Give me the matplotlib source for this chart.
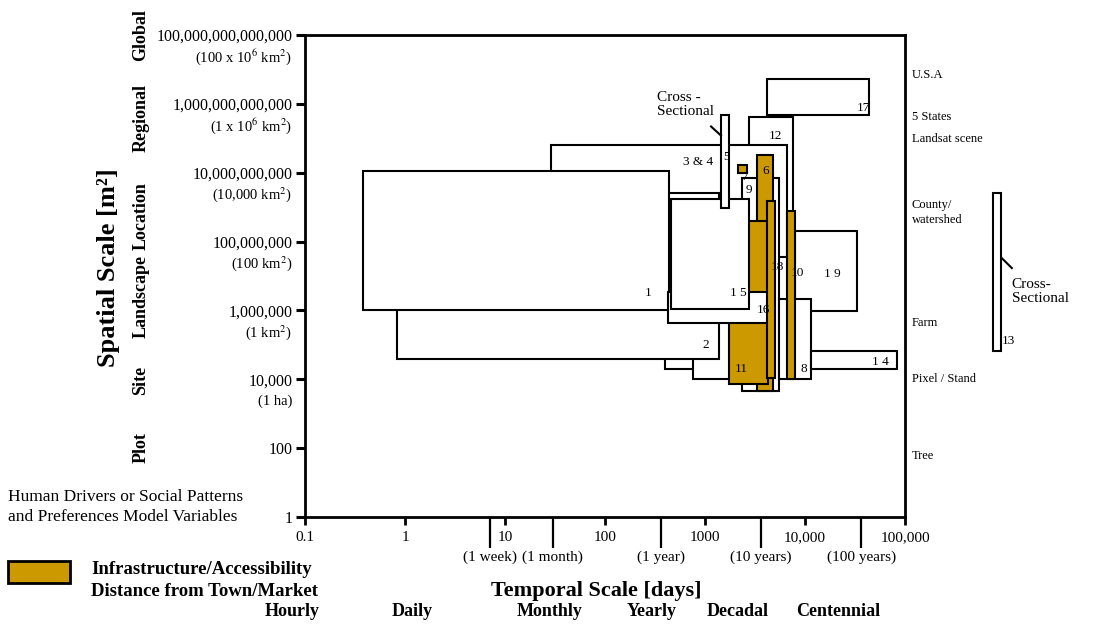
import matplotlib.pyplot as plt
from matplotlib.patches import Rectangle
from matplotlib.ticker import FixedLocator, NullLocator, NullFormatter

plt.rcParams['font.family'] = 'Liberation Serif'
plt.rcParams['mathtext.fontset'] = 'stix'

GOLD = '#CC9900'
W, H = 1097, 631

# spatial axis (m^2)
y_ticks = [1, 1e2, 1e4, 1e6, 1e8, 1e10, 1e12, 1e14]
y_labels = ['1', '100', '10,000', '1,000,000', '100,000,000', '10,000,000,000',
            '1,000,000,000,000', '100,000,000,000,000']
y_sub = ['', '', '(1 ha)', '(1 km$^2$)', '(100 km$^2$)', '(10,000 km$^2$)',
         '(1 x 10$^6$ km$^2$)', '(100 x 10$^6$ km$^2$)']
space_names = ['Global', 'Regional', 'Location', 'Landscape', 'Site', 'Plot']
space_pos = [1e14, 4e11, 5.5e8, 2.6e6, 9e3, 107]

# temporal axis (days)
x_ticks = [0.1, 1, 10, 100, 1000, 1e4, 1e5]
x_labels = ['0.1', '1', '10', '100', '1000', '10,000', '100,000']
period_ticks = [7, 30, 365, 3650, 36500]
period_labels = ['(1 week)', '(1 month)', '(1 year)', '(10 years)', '(100 years)']
time_names = ['Hourly', 'Daily', 'Monthly', 'Yearly', 'Decadal', 'Centennial']
time_pos = [0.074, 1.17, 28, 290, 2140, 21400]

# right side places
place_names = ['U.S.A', '5 States', 'Landsat scene', 'County/\nwatershed', 'Farm',
               'Pixel / Stand', 'Tree']
place_pos = [6.9e12, 4.2e11, 9.5e10, 7e8, 4.3e5, 1e4, 59]

# model extents, listed in drawing order (bottom first)
box_x0 = [2750, 28.8, 398, 760, 0.83, 0.38, 2340, 3310, 1740, 427, 457, 1445,
          2140, 4170, 7940, 5500, 6600, 11500, 4170, 7.6e5]
box_x1 = [7600, 6600, 800, 2500, 1380, 440, 5500, 4790, 4270, 4365, 2750, 1740,
          2630, 5010, 33100, 11500, 7940, 83200, 43650, 9.1e5]
box_y0 = [1e6, 3.5e7, 2e4, 1e4, 3.9e4, 1e6, 4.6e3, 4.6e3, 7.2e3, 4.3e5, 1.1e6,
          9.3e8, 1e10, 1.1e4, 9.5e5, 1e4, 1e4, 2e4, 4.8e11, 6.6e4]
box_y1 = [4.2e11, 6.3e10, 5e5, 5e5, 2.6e9, 1.1e10, 7e9, 3.2e10, 4e8, 3.4e6,
          1.7e9, 4.8e11, 1.7e10, 1.5e9, 2e8, 2.1e6, 7.8e8, 6.6e4, 5.2e12, 2.6e9]
box_infra = [False, False, False, False, False, False, False, True, True, False,
             False, False, True, True, False, False, True, False, False, False]

# model numbers
num_text = ['1', '2', '3 & 4', '5', '6', '7', '8', '9', '10', '11', '12', '1 4',
            '1 5', '16', '17', '18', '1 9', '13']
num_x = [269, 1023, 851, 1622, 4074, 2455, 9772, 2754, 8318, 2290, 5012, 56234,
         2138, 3802, 38000, 5248, 18600, 1.07e6]
num_y = [3.2e6, 1e5, 2e10, 2.9e10, 1.1e10, 7.5e9, 2e4, 3.2e9, 1.2e7, 2e4,
         1.2e11, 3.2e4, 3.2e6, 1e6, 7.6e11, 1.8e7, 1.15e7, 1.3e5]

fig = plt.figure(figsize=(W / 100, H / 100), dpi=100)
ax = fig.add_axes([305 / W, 114 / H, 600 / W, 482 / H])
ax.set_xscale('log')
ax.set_yscale('log')
ax.set_xlim(0.1, 1e5)
ax.set_ylim(1, 1e14)
for s in ax.spines.values():
    s.set_linewidth(2)

ax.set_xticks(x_ticks, x_labels)
ax.xaxis.set_minor_locator(FixedLocator(period_ticks))
ax.xaxis.set_minor_formatter(NullFormatter())
ax.tick_params(axis='x', which='major', length=6, width=2, pad=4, labelsize=11)
ax.tick_params(axis='x', which='minor', length=22, width=1.6)
ax.set_yticks(y_ticks, y_labels)
ax.yaxis.set_minor_locator(NullLocator())
ax.tick_params(axis='y', which='major', length=6.5, width=2.2, pad=2.5, labelsize=11.5)

for yv, sub in zip(y_ticks, y_sub):
    if sub:
        ax.annotate(sub, (0, yv), xycoords=('axes fraction', 'data'),
                    xytext=(-13, -22), textcoords='offset pixels',
                    ha='right', va='center', fontsize=10.5)
for xv, lab in zip(period_ticks, period_labels):
    ax.annotate(lab, (xv, 0), xycoords=('data', 'axes fraction'),
                xytext=(0, -40), textcoords='offset pixels',
                ha='center', va='center', fontsize=11)

for name, yv in zip(space_names, space_pos):
    ax.annotate(name, (141 / W, yv), xycoords=('figure fraction', 'data'),
                rotation=90, ha='center', va='center', fontsize=13, fontweight='bold')
for name, xv in zip(time_names, time_pos):
    ax.annotate(name, (xv, 1 - 612 / H), xycoords=('data', 'figure fraction'),
                ha='center', va='center', fontsize=13, fontweight='bold',
                annotation_clip=False)
for name, yv in zip(place_names, place_pos):
    ax.text(1.17e5, yv, name, ha='left', va='center', fontsize=9, linespacing=1.4)

for i in range(len(box_x0)):
    ax.add_patch(Rectangle((box_x0[i], box_y0[i]), box_x1[i] - box_x0[i],
                           box_y1[i] - box_y0[i],
                           facecolor=GOLD if box_infra[i] else 'white',
                           edgecolor='black', linewidth=1.5, zorder=2 + i * 0.1,
                           clip_on=False))

for t, xv, yv in zip(num_text, num_x, num_y):
    ax.text(xv, yv, t, ha='center', va='center', fontsize=9.5, zorder=10)

ax.text(331, 9.5e11, 'Cross -\nSectional', ha='left', va='center', fontsize=11,
        linespacing=1.1, zorder=10)
ax.plot([1150, 1445], [2.2e11, 1.2e11], color='black', lw=1.5, zorder=10)
ax.text(1.17e6, 3.6e6, 'Cross-\nSectional', ha='left', va='center', fontsize=11,
        linespacing=1.1, zorder=10)
ax.plot([9.3e5, 1.17e6], [3.3e7, 1.7e7], color='black', lw=1.5, zorder=10,
        clip_on=False)

fig.text(108 / W, 1 - 268 / H, 'Spatial Scale [m²]', rotation=90,
         ha='center', va='center', fontsize=19, fontweight='bold')
fig.text(596 / W, 1 - 591 / H, 'Temporal Scale [days]', ha='center', va='center',
         fontsize=16, fontweight='bold')

fig.text(8 / W, 1 - 497 / H, 'Human Drivers or Social Patterns', ha='left',
         va='center', fontsize=12.5)
fig.text(8 / W, 1 - 517 / H, 'and Preferences Model Variables', ha='left',
         va='center', fontsize=12.5)
fig.patches.append(Rectangle((8 / W, 1 - 583 / H), 62 / W, 22 / H,
                             transform=fig.transFigure, facecolor=GOLD,
                             edgecolor='black', linewidth=2))
fig.text(91 / W, 1 - 569 / H, 'Infrastructure/Accessibility', ha='left',
         va='center', fontsize=13.5, fontweight='bold')
fig.text(91 / W, 1 - 591 / H, 'Distance from Town/Market', ha='left',
         va='center', fontsize=13.5, fontweight='bold')

fig.savefig('out.png', dpi=100)
